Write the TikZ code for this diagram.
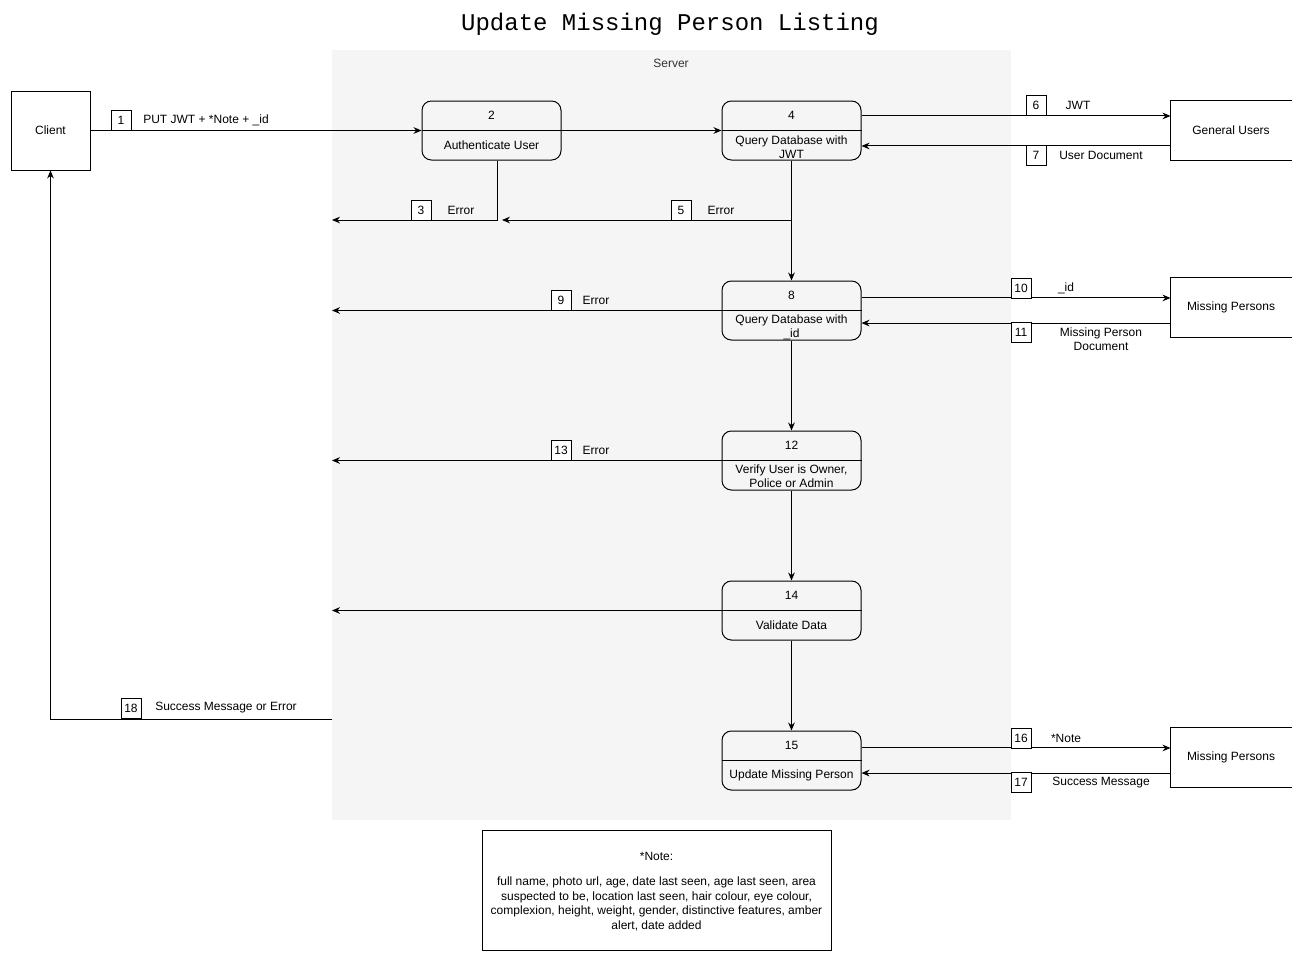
\documentclass[tikz,border=0pt]{standalone}
\usepackage{fontspec}
\setmainfont{Liberation Sans}
\newfontfamily\titlefont{Liberation Mono}
\usetikzlibrary{arrows.meta,calc}
\definecolor{srvfill}{HTML}{F5F5F5}
\definecolor{srvtext}{HTML}{333333}

\tikzset{every picture/.style={line width=0.75pt}}
\tikzset{
  arr/.style={-{Stealth[length=6pt,width=5pt]}},
  proc/.style={draw,rounded corners=7pt,minimum width=104.25pt,minimum height=44.25pt,inner sep=0pt},
  ent/.style={minimum width=90pt,minimum height=44.25pt,inner sep=0pt,align=center},
  numbox/.style={draw,fill=white,minimum size=15pt,inner sep=0pt},
  lbl/.style={align=center,inner sep=0pt}
}

\begin{document}
\begin{tikzpicture}[x=0.75pt,y=0.75pt,yscale=-1,xscale=1,font=\fontsize{9}{10.5}\selectfont]
		\clip (0,0) rectangle (1302,961);
		\fill[white] (0,0) rectangle (1302,961);
		
		%Server area
		\fill[srvfill] (332,50) rectangle (1011,820);
		\node[text=srvtext] (server) at (671,63.5) {Server};
		
		% Title
		\node (title) at (670,24) {\titlefont\fontsize{18}{20}\selectfont Update Missing Person Listing};
		
		%Client
		\node[draw,minimum size=59.25pt,inner sep=0pt] (client) at (50.5,130.5) {Client};
		
		%Processes
		\node[proc] (p2) at (491.5,130.5) {};
		\node[proc] (p4) at (791.5,130.5) {};
		\node[proc] (p8) at (791.5,310.5) {};
		\node[proc] (p12) at (791.5,460.5) {};
		\node[proc] (p14) at (791.5,610.5) {};
		\node[proc] (p15) at (791.5,760.5) {};
		\foreach \p in {p2,p4,p8,p12,p14,p15}
			\draw (\p.west) -- (\p.east);
		
		% Text Node
		\node (t2) at (491.5,115.5) {2};
		\node[lbl] (s2) at (491.5,145) {Authenticate User};
		\node (t4) at (791.5,115.5) {4};
		\node[lbl] (s4) at (791.5,147) {Query Database with\\JWT};
		\node (t8) at (791.5,295.5) {8};
		\node[lbl] (s8) at (791.5,327) {Query Database with\\\_id};
		\node (t12) at (791.5,445.5) {12};
		\node[lbl] (s12) at (791.5,476) {Verify User is Owner,\\Police or Admin};
		\node (t14) at (791.5,595.5) {14};
		\node[lbl] (s14) at (791.5,625) {Validate Data};
		\node (t15) at (791.5,745.5) {15};
		\node[lbl] (s15) at (791.5,775) {Update Missing Person};
		
		%External entities (open on the right)
		\node[ent] (gu) at (1231,130.5) {General Users};
		\node[ent] (mp1) at (1231,307.5) {Missing Persons};
		\node[ent] (mp2) at (1231,757.5) {Missing Persons};
		\foreach \e in {gu,mp1,mp2}
			\draw (\e.north east) -- (\e.north west) -- (\e.south west) -- (\e.south east);
		
		%Free ends
		\coordinate (e3) at (497,220);
		\coordinate (e3l) at (332,220);
		\coordinate (j5) at (791.5,220);
		\coordinate (e5) at (502,220);
		\coordinate (e9) at (332,310.5);
		\coordinate (e13) at (332,460.5);
		\coordinate (e14) at (332,610.5);
		\coordinate (e18) at (332,719);
		
		%Flows
		\draw[arr] (client) -- (p2);
		\draw[arr] (p2) -- (p4);
		\draw[arr] (e3 |- p2.south) -- (e3) -- (e3l);
		\draw[arr] (p4) -- (p8);
		\draw[arr] (j5) -- (e5);
		\draw[arr] ([yshift=-10.9pt]p4.east) -- ([yshift=-10.9pt]p4.east -| gu.west);
		\draw[arr] ([yshift=11.6pt]p4.east -| gu.west) -- ([yshift=11.6pt]p4.east);
		\draw[arr] (p8.west) -- (e9);
		\draw[arr] ([yshift=-9.4pt]p8.east) -- ([yshift=-9.4pt]p8.east -| mp1.west);
		\draw[arr] ([yshift=9.4pt]p8.east -| mp1.west) -- ([yshift=9.4pt]p8.east);
		\draw[arr] (p8) -- (p12);
		\draw[arr] (p12.west) -- (e13);
		\draw[arr] (p12) -- (p14);
		\draw[arr] (p14.west) -- (e14);
		\draw[arr] (p14) -- (p15);
		\draw[arr] ([yshift=-9.4pt]p15.east) -- ([yshift=-9.4pt]p15.east -| mp2.west);
		\draw[arr] ([yshift=9.4pt]p15.east -| mp2.west) -- ([yshift=9.4pt]p15.east);
		\draw[arr] (e18) -| (client.south);
		
		%Flow numbers
		\node[numbox] (n1) at (121,120) {1};
		\node[numbox] (n3) at (421,210) {3};
		\node[numbox] (n5) at (681,210) {5};
		\node[numbox] (n6) at (1036,105) {6};
		\node[numbox] (n7) at (1036,155) {7};
		\node[numbox] (n9) at (561,300) {9};
		\node[numbox] (n10) at (1021,288) {10};
		\node[numbox] (n11) at (1021,332) {11};
		\node[numbox] (n13) at (561,450) {13};
		\node[numbox] (n16) at (1021,738) {16};
		\node[numbox] (n17) at (1021,782) {17};
		\node[numbox] (n18) at (131,708) {18};
		
		%Flow labels
		\node[lbl] (l1) at (206,120) {PUT JWT + *Note + \_id};
		\node[lbl] (l3) at (461,210) {Error};
		\node[lbl] (l5) at (721,210) {Error};
		\node[lbl] (l6) at (1078,105) {JWT};
		\node[lbl] (l7) at (1101,155) {User Document};
		\node[lbl] (l9) at (596,300) {Error};
		\node[lbl] (l10) at (1066,288) {\_id};
		\node[lbl] (l11) at (1101,339) {Missing Person\\Document};
		\node[lbl] (l13) at (596,450) {Error};
		\node[lbl] (l16) at (1066,738) {*Note};
		\node[lbl] (l17) at (1101,783) {Success Message};
		\node[lbl] (l18) at (226,708) {Success Message or Error};
		
		%Note
		\node[draw,minimum width=261.75pt,minimum height=90pt] (note) at (656.5,890) {};
		\node[lbl] (notehead) at (656.5,856.5) {*Note:};
		\node[lbl,font=\fontsize{9}{10.8}\selectfont] (notebody) at (656.5,904) {full name, photo url, age, date last seen, age last seen, area\\suspected to be, location last seen, hair colour, eye colour,\\complexion, height, weight, gender, distinctive features, amber\\alert, date added};
		
\end{tikzpicture}
\end{document}
